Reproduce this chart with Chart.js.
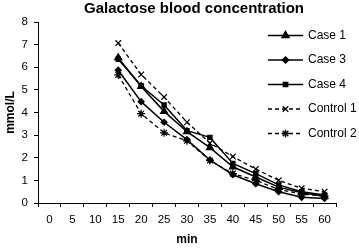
<!DOCTYPE html>
<html>
<head>
<meta charset="utf-8">
<script src="https://cdn.jsdelivr.net/npm/chart.js@4/dist/chart.umd.min.js"></script>
<style>
html,body{margin:0;padding:0;background:#fff;}
#wrap{width:359px;height:250px;position:relative;}
</style>
</head>
<body>
<div id="wrap"><canvas id="c" width="359" height="250"></canvas></div>
<script>
const minutes = ['0','5','10','15','20','25','30','35','40','45','50','55','60'];
const case1    = [null,null,null,6.42,5.15,4.05,3.15,2.45,1.6,1.15,0.7,0.45,0.3];
const case3    = [null,null,null,5.87,4.48,3.57,2.8,1.9,1.25,0.85,0.5,0.25,0.2];
const case4    = [null,null,null,6.35,5.18,4.33,3.2,2.9,1.75,1.3,0.8,0.5,0.35];
const control1 = [null,null,null,7.07,5.68,4.68,3.57,2.65,2.05,1.5,1.0,0.65,0.5];
const control2 = [null,null,null,5.66,3.95,3.1,2.75,1.88,1.3,1.0,0.6,0.4,0.3];
const seriesNames = ['Case 1','Case 3','Case 4','Control 1','Control 2'];
const yTicks = [0,1,2,3,4,5,6,7,8];
const titleText = 'Galactose blood concentration';

const FONT = "'Liberation Sans', Arial, sans-serif";

function ds(label, data, style, radius, dashed){
  return {
    label, data,
    borderColor:'#000', backgroundColor:'#000',
    borderWidth: dashed ? 1.3 : 1.5,
    borderDash: dashed ? [4,3] : [],
    pointStyle: style, pointRadius: radius, pointBorderWidth: 1.2,
    pointBorderColor:'#000', pointBackgroundColor:'#000',
    tension:0, spanGaps:false, fill:false
  };
}

const titlePlugin = {
  id:'customTitle',
  afterDraw(chart){
    const ctx = chart.ctx;
    ctx.save();
    ctx.fillStyle = '#000';
    ctx.font = "bold 15px " + FONT;
    ctx.textAlign = 'center';
    ctx.textBaseline = 'middle';
    ctx.fillText(titleText, 194, 9);
    ctx.restore();
  }
};

const legendPlugin = {
  id:'customLegend',
  afterDraw(chart){
    const ctx = chart.ctx;
    const x0 = 268, x1 = 303, tx = 308;
    const ys = [35.5, 60, 84.5, 109, 133.5];
    chart.data.datasets.forEach((d, i) => {
      const y = ys[i];
      ctx.save();
      ctx.strokeStyle = '#000';
      ctx.lineWidth = d.borderWidth;
      ctx.setLineDash(d.borderDash);
      ctx.beginPath();
      ctx.moveTo(x0, y);
      ctx.lineTo(x1, y);
      ctx.stroke();
      ctx.setLineDash([]);
      if (Chart.helpers && Chart.helpers.drawPoint) {
        Chart.helpers.drawPoint(ctx, {
          pointStyle: d.pointStyle, radius: d.pointRadius, rotation: 0,
          borderWidth: d.pointBorderWidth
        }, (x0 + x1) / 2, y);
      }
      ctx.fillStyle = '#000';
      ctx.font = "12px " + FONT;
      ctx.textAlign = 'left';
      ctx.textBaseline = 'middle';
      ctx.fillText(d.label, tx, y);
      ctx.restore();
    });
  }
};

new Chart(document.getElementById('c'), {
  type:'line',
  data:{
    labels: minutes,
    datasets:[
      ds(seriesNames[0], case1, 'triangle', 4, false),
      ds(seriesNames[1], case3, 'rectRot', 3, false),
      ds(seriesNames[2], case4, 'rect', 3, false),
      ds(seriesNames[3], control1, 'crossRot', 4, true),
      ds(seriesNames[4], control2, 'star', 4, true)
    ]
  },
  options:{
    responsive:false, animation:false,
    layout:{padding:{top:22, right:23, left:0, bottom:0}},
    plugins:{legend:{display:false}, title:{display:false}, tooltip:{enabled:false}},
    scales:{
      x:{
        type:'category', offset:true,
        grid:{display:true, drawOnChartArea:false, drawTicks:true, tickLength:4, offset:true, color:'#000'},
        border:{display:true, color:'#000', width:1},
        ticks:{color:'#000', font:{family:FONT, size:11.5}, padding:6, maxRotation:0, autoSkip:false},
        title:{display:true, text:'min', color:'#000', font:{family:FONT, size:12, weight:'bold'}, padding:{top:0,bottom:3}},
        afterFit(a){ a.height = 47; }
      },
      y:{
        min:0, max:8,
        afterBuildTicks(a){ a.ticks = yTicks.map(v => ({value:v})); },
        grid:{display:true, drawOnChartArea:false, drawTicks:true, tickLength:4, color:'#000'},
        border:{display:true, color:'#000', width:1},
        ticks:{color:'#000', font:{family:FONT, size:11.5}, padding:6},
        title:{display:true, text:'mmol/L', color:'#000', font:{family:FONT, size:12, weight:'bold'}, padding:{top:3,bottom:0}},
        afterFit(a){ a.width = 38; }
      }
    }
  },
  plugins:[titlePlugin, legendPlugin]
});
</script>
</body>
</html>
